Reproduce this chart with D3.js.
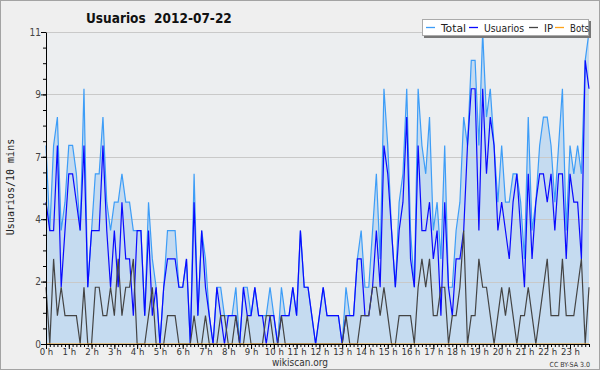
<!doctype html>
<html lang="es">
<head>
<meta charset="utf-8">
<title>Usuarios 2012-07-22</title>
<style>
  * { margin: 0; padding: 0; }
  body { width: 600px; height: 370px; overflow: hidden; background: #fff; }
  svg { display: block; font-family: "DejaVu Sans Condensed", "DejaVu Sans", sans-serif; }
</style>
<script src="https://cdn.jsdelivr.net/npm/d3@7"></script>
</head>
<body>
<svg width="600" height="370"></svg>
<script>
// one value per 10 minutes, 0:00 .. 23:50
const usuarios = [
  5,4,4,7,2,4,6,6,5,4,7,2,4,4,4,7,4,2,4,2,5,3,3,1,
  4,4,1,4,1,2,0,2,3,3,3,2,2,3,0,5,1,4,2,1,0,2,1,0,
  1,1,1,0,2,1,1,2,1,1,0,1,1,0,1,1,1,2,1,4,2,2,1,0,
  1,2,1,1,1,1,0,1,1,1,3,3,1,1,2,4,2,7,6,4,2,4,5,8,
  3,2,7,4,4,5,3,4,1,5,2,1,3,3,4,7,9,9,4,9,6,8,7,4,
  5,4,3,5,6,4,2,6,3,5,6,6,5,6,4,6,6,3,6,5,5,3,10,9
];
const ip = [
  2,0,3,1,2,1,1,1,1,0,2,0,0,2,2,1,1,2,1,3,1,2,2,3,
  0,0,0,1,2,0,0,0,1,1,1,0,0,0,0,1,0,0,1,0,0,0,1,1,
  0,0,1,0,0,1,0,0,0,0,1,1,0,0,1,0,0,0,0,0,0,0,0,0,
  0,0,0,0,0,0,0,1,0,0,0,1,1,1,2,2,1,2,1,0,0,1,1,1,
  1,0,2,3,2,3,1,1,2,2,0,1,1,2,4,0,1,1,3,2,2,1,0,1,
  2,1,2,1,0,1,1,2,1,0,1,2,3,1,1,1,3,1,1,1,2,3,0,2
];
const total = [
  7,4,7,8,4,5,7,7,6,4,9,2,4,6,6,8,5,4,5,5,6,5,5,4,
  4,4,1,5,3,2,0,2,4,4,4,2,2,3,0,6,1,4,3,1,0,2,2,1,
  1,1,2,0,2,2,1,2,1,1,1,2,1,0,2,1,1,2,1,4,2,2,1,0,
  1,2,1,1,1,1,0,2,1,1,3,4,2,2,4,6,3,9,7,4,2,5,6,9,
  4,2,9,7,6,8,4,5,3,7,2,2,4,5,8,7,10,10,7,11,8,9,7,5,
  7,5,5,6,6,5,3,8,4,5,7,8,8,7,5,7,9,4,7,6,7,6,10,11
];
const bots = [
  0,0,0,0,0,0,0,0,0,0,0,0,0,0,0,0,0,0,0,0,0,0,0,0,
  0,0,0,0,0,0,0,0,0,0,0,0,0,0,0,0,0,0,0,0,0,0,0,0,
  0,0,0,0,0,0,0,0,0,0,0,0,0,0,0,0,0,0,0,0,0,0,0,0,
  0,0,0,0,0,0,0,0,0,0,0,0,0,0,0,0,0,0,0,0,0,0,0,0,
  0,0,0,0,0,0,0,0,0,0,0,0,0,0,0,0,0,0,0,0,0,0,0,0,
  0,0,0,0,0,0,0,0,0,0,0,0,0,0,0,0,0,0,0,0,0,0,0,0
];

const hourLabels = ["0 h","1 h","2 h","3 h","4 h","5 h","6 h","7 h","8 h","9 h","10 h","11 h",
                    "12 h","13 h","14 h","15 h","16 h","17 h","18 h","19 h","20 h","21 h","22 h","23 h"];
const yTicks = [0, 2.2, 4.4, 6.6, 8.8, 11];
const yTickLabels = ["0", "2", "4", "7", "9", "11"];

const seriesNames = ["Total", "Usuarios", "IP", "Bots"];
const seriesColors = ["#3d9df7", "#0a0aff", "#444444", "#ffa31a"];

const svg = d3.select("svg");
const plotL = 46, plotR = 589, plotT = 32, plotB = 344;

const x = d3.scaleLinear().domain([0, total.length - 1]).range([plotL, plotR]);
const y = d3.scaleLinear().domain([0, 11]).range([plotB, plotT]);

// background + frame
svg.append("rect").attr("x", 0.5).attr("y", 0.5).attr("width", 599).attr("height", 369)
   .attr("fill", "#efefef").attr("stroke", "#a3a3a3");
svg.append("rect").attr("x", plotL).attr("y", plotT).attr("width", plotR - plotL).attr("height", plotB - plotT)
   .attr("fill", "#eceef0");

// filled total
const area = d3.area().x((d, i) => x(i)).y0(y(0)).y1(d => y(d));
svg.append("path").datum(total).attr("d", area).attr("fill", "#c5dbf0");

// grid
svg.append("g").selectAll("line").data(yTicks.slice(1)).join("line")
   .attr("x1", plotL).attr("x2", plotR)
   .attr("y1", d => Math.round(y(d)) + 0.5).attr("y2", d => Math.round(y(d)) + 0.5)
   .attr("stroke", "#c9c9c9");

// lines
const line = d3.line().x((d, i) => x(i)).y(d => y(d));
const series = [total, usuarios, ip, bots];
series.forEach((vals, k) => {
  svg.append("path").datum(vals).attr("d", line)
     .attr("fill", "none").attr("stroke", seriesColors[k]).attr("stroke-width", 1.2);
});

// y axis
const yAxis = svg.append("g").attr("transform", `translate(${plotL},0)`)
   .call(d3.axisLeft(y).tickValues(yTicks).tickFormat((d, i) => yTickLabels[i]).tickSize(5).tickSizeOuter(0));
svg.append("g").attr("transform", `translate(${plotL},0)`)
   .call(d3.axisLeft(y).tickValues(d3.range(21).map(k => k * 0.55)).tickFormat("").tickSize(3).tickSizeOuter(0))
   .select(".domain").remove();
yAxis.selectAll("text").attr("font-size", 10).attr("fill", "#444").attr("x", -5)
   .attr("font-family", "'DejaVu Sans Condensed', 'DejaVu Sans', sans-serif");

// x axis
const xAxis = svg.append("g").attr("transform", `translate(0,${plotB})`)
   .call(d3.axisBottom(x).tickValues(d3.range(0, 144, 6)).tickFormat((d, i) => hourLabels[i]).tickSize(5).tickSizeOuter(0));
svg.append("g").attr("transform", `translate(0,${plotB})`)
   .call(d3.axisBottom(x).tickValues(d3.range(144)).tickFormat("").tickSize(3).tickSizeOuter(0))
   .select(".domain").remove();
xAxis.selectAll("text").attr("font-size", 9.5).attr("fill", "#333").attr("y", 4)
   .attr("font-family", "'DejaVu Sans Condensed', 'DejaVu Sans', sans-serif");
svg.selectAll(".domain, .tick line").attr("stroke", "#000");

// title
svg.append("text").attr("x", 86).attr("y", 23).attr("font-size", 13.5).attr("font-weight", "bold")
   .attr("fill", "#111").attr("xml:space", "preserve").text("Usuarios  2012-07-22");

// y label
svg.append("text").attr("transform", "translate(14,187) rotate(-90)").attr("text-anchor", "middle")
   .attr("font-family", "'DejaVu Sans Mono', monospace").attr("font-size", 10).attr("fill", "#222")
   .text("Usuarios/10 mins");

// footer
svg.append("text").attr("x", 300).attr("y", 366).attr("text-anchor", "middle")
   .attr("font-size", 10).attr("fill", "#333").text("wikiscan.org");
svg.append("text").attr("x", 590).attr("y", 367).attr("text-anchor", "end")
   .attr("font-size", 7).attr("fill", "#333").text("CC BY-SA 3.0");

// legend
const lg = svg.append("g");
lg.append("rect").attr("x", 424).attr("y", 21).attr("width", 167).attr("height", 17).attr("fill", "#777");
lg.append("rect").attr("x", 422.5).attr("y", 19.5).attr("width", 166).attr("height", 16)
  .attr("fill", "#fff").attr("stroke", "#aaa");
const legendX = [426, 469, 529, 555];
const legendTextW = [25, 40, 9, 19];
seriesNames.forEach((name, k) => {
  lg.append("line").attr("x1", legendX[k]).attr("x2", legendX[k] + 9).attr("y1", 27.5).attr("y2", 27.5)
    .attr("stroke", seriesColors[k]).attr("stroke-width", 1.3);
  lg.append("text").attr("x", legendX[k] + 15).attr("y", 32).attr("font-size", 11).attr("fill", "#222")
    .attr("textLength", legendTextW[k]).attr("lengthAdjust", "spacingAndGlyphs").text(name);
});
</script>
</body>
</html>
